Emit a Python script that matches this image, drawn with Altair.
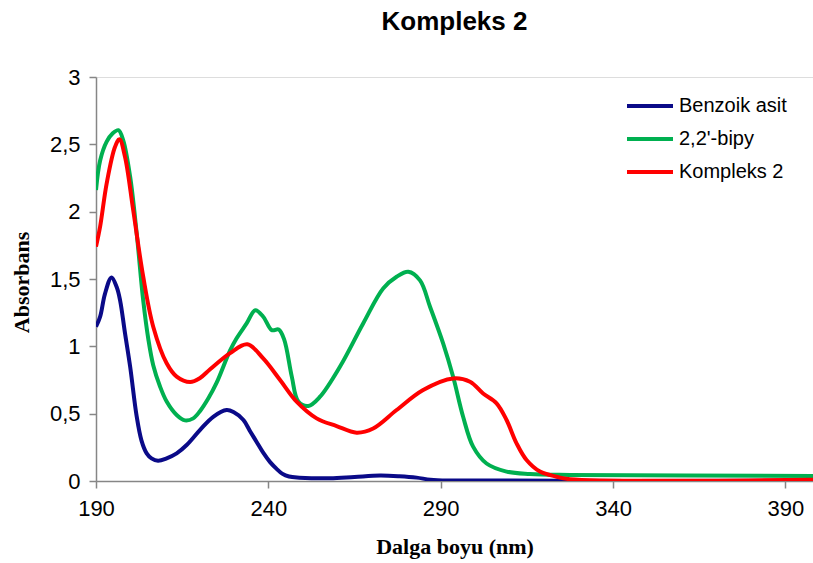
import altair as alt
import pandas as pd

series_names = ["Benzoik asit", "2,2'-bipy", "Kompleks 2"]
series_colors = ["#0A0A88", "#00B050", "#FF0000"]

benz_x = [190, 191.2, 192.6, 194.5, 196, 197, 198.4, 199.9, 201.8, 203.2, 204.7, 206.1, 208,
          210.5, 213.4, 216.3, 220.2, 224, 227.9, 230, 232.7, 234.7, 236.6, 238.5, 240.5,
          242.4, 244, 246, 249, 257.9, 265, 272.4, 278, 283, 287, 292, 398]
benz_y = [1.146, 1.22, 1.39, 1.512, 1.44, 1.34, 1.10, 0.85, 0.48, 0.30, 0.205, 0.168, 0.15,
          0.168, 0.205, 0.267, 0.38, 0.477, 0.527, 0.51, 0.455, 0.37, 0.29, 0.21, 0.14,
          0.09, 0.055, 0.033, 0.025, 0.02, 0.03, 0.04, 0.035, 0.025, 0.01, 0.004, 0.003]

bipy_x = [190, 191.2, 193.1, 194.8, 196.5, 197.9, 199.9, 201.8, 203.7, 205.2, 206.6, 208.6,
          210.5, 213.4, 215.8, 218.2, 220.2, 222.6, 225, 228.9, 230.8, 233.7, 236.2, 238.5,
          241, 243, 244.6, 246.8, 248.7, 251.6, 255, 260.8, 267.5, 273.3, 277.2, 280.6, 284,
          286.9, 290.7, 293.6, 296.5, 299.4, 303.3, 309.1, 315.9, 327.5, 398]
bipy_y = [2.16, 2.38, 2.52, 2.58, 2.605, 2.53, 2.26, 1.84, 1.34, 1.05, 0.86, 0.70,
          0.59, 0.49, 0.45, 0.465, 0.52, 0.614, 0.73, 0.97, 1.06, 1.17, 1.268, 1.22,
          1.12, 1.125, 1.05, 0.775, 0.59, 0.557, 0.626, 0.85, 1.17, 1.43, 1.517, 1.554, 1.49,
          1.294, 1.022, 0.774, 0.477, 0.255, 0.13, 0.07, 0.052, 0.045, 0.038]

komp_x = [190, 191.2, 193.1, 195.5, 196.8, 198.4, 200.8, 203.7, 206.6, 210.5, 213.4, 217.3,
          220.2, 223.1, 228.9, 233.9, 238.5, 243.4, 248.2, 254, 259.8, 265.6, 270.4, 277.2,
          284.9, 293.6, 298.5, 302.3, 306.2, 309.1, 312, 314.9, 318.8, 323.6, 327.5, 398]
komp_y = [1.74, 1.89, 2.21, 2.48, 2.537, 2.41, 2.01, 1.517, 1.146, 0.874, 0.775, 0.735,
          0.765, 0.83, 0.95, 1.015, 0.91, 0.75, 0.589, 0.465, 0.408, 0.359, 0.39, 0.527,
          0.676, 0.762, 0.737, 0.65, 0.577, 0.453, 0.28, 0.156, 0.07, 0.032, 0.013, 0.01]

x_ticks = [190, 240, 290, 340, 390]
y_ticks = [0, 0.5, 1, 1.5, 2, 2.5, 3]

rows = []
for name, xs, ys in zip(series_names, [benz_x, bipy_x, komp_x], [benz_y, bipy_y, komp_y]):
    for i, (x, y) in enumerate(zip(xs, ys)):
        rows.append({"seri": name, "nm": x, "abs": y, "i": i})
df = pd.DataFrame(rows)

axis_common = dict(
    domainColor="#868686", tickColor="#868686", domainWidth=1.5, tickWidth=1.5,
    tickSize=7, grid=False, labelColor="#000000", labelFont="Liberation Sans",
    labelFontSize=22, titleFont="Liberation Serif", titleFontSize=22,
    titleFontWeight="bold", titleColor="#000000", labelFlush=False,
)

chart = alt.Chart(df).mark_line(strokeWidth=4, interpolate="catmull-rom", clip=True).encode(
    x=alt.X("nm:Q", scale=alt.Scale(domain=[190, 398], nice=False, zero=False),
            axis=alt.Axis(values=x_ticks, title="Dalga boyu (nm)", labelPadding=10,
                          titleBaseline="alphabetic", titleY=72, **axis_common)),
    y=alt.Y("abs:Q", scale=alt.Scale(domain=[0, 3], nice=False),
            axis=alt.Axis(values=y_ticks, title="Absorbans", labelPadding=9,
                          labelExpr="replace(toString(datum.value), '.', ',')",
                          titleBaseline="alphabetic", titleX=-68, titleY=205, titleAngle=-90,
                          **axis_common)),
    color=alt.Color("seri:N", scale=alt.Scale(domain=series_names, range=series_colors),
                    legend=alt.Legend(title=None, orient="none", legendX=529, legendY=12.5,
                                      symbolType="stroke", symbolSize=2116,
                                      symbolStrokeWidth=4, clipHeight=33, rowPadding=0,
                                      labelFont="Liberation Sans", labelFontSize=20,
                                      labelColor="#000000", labelOffset=4, padding=0)),
    detail="seri:N",
    order="i:Q",
).properties(
    width=717, height=404,
    title=alt.TitleParams("Kompleks 2", font="Liberation Sans", fontSize=26,
                          fontWeight="bold", anchor="middle", frame="group",
                          offset=31, color="#000000"),
    autosize=alt.AutoSizeParams(type="none"),
    padding={"left": 96, "top": 77, "right": 0, "bottom": 82},
).configure_view(stroke=None).configure(background="white")

chart.save("out.html", embed_options={"renderer": "svg", "actions": False})
